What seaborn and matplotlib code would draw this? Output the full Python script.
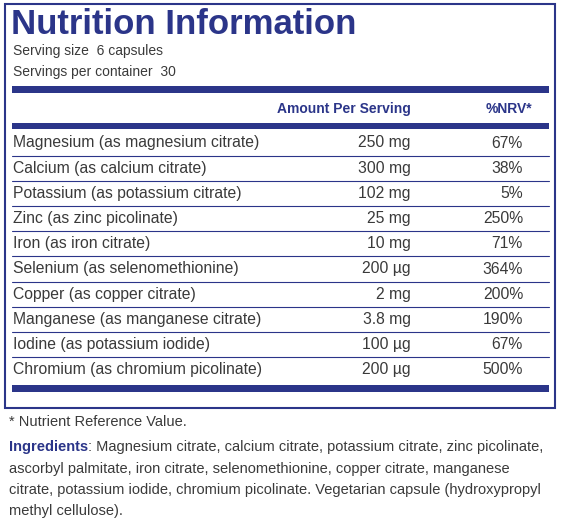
import matplotlib
matplotlib.use('Agg')
import matplotlib.pyplot as plt
import seaborn as sns

sns.set_theme(style='white')
plt.rcParams['font.family'] = ['Liberation Sans', 'DejaVu Sans']

navy = '#2b3589'
grey = '#3a3a3a'

title = 'Nutrition Information'
serving_lines = ['Serving size  6 capsules', 'Servings per container  30']
nutrients = ['Magnesium (as magnesium citrate)', 'Calcium (as calcium citrate)',
             'Potassium (as potassium citrate)', 'Zinc (as zinc picolinate)',
             'Iron (as iron citrate)', 'Selenium (as selenomethionine)',
             'Copper (as copper citrate)', 'Manganese (as manganese citrate)',
             'Iodine (as potassium iodide)', 'Chromium (as chromium picolinate)']
amounts = ['250 mg', '300 mg', '102 mg', '25 mg', '10 mg', '200 µg',
           '2 mg', '3.8 mg', '100 µg', '200 µg']
nrv = ['67%', '38%', '5%', '250%', '71%', '364%', '200%', '190%', '67%', '500%']
footnote = '* Nutrient Reference Value.'
ingredients = ['Magnesium citrate, calcium citrate, potassium citrate, zinc picolinate,',
               'ascorbyl palmitate, iron citrate, selenomethionine, copper citrate, manganese',
               'citrate, potassium iodide, chromium picolinate. Vegetarian capsule (hydroxypropyl',
               'methyl cellulose).']

fig = plt.figure(figsize=(5.64, 5.18), dpi=100)
ax = fig.add_axes([0, 0, 1, 1])
ax.set_xlim(0, 564)
ax.set_ylim(518, 0)
ax.axis('off')

# outer border
ax.add_patch(plt.Rectangle((5, 4), 550, 404, fill=False, ec=navy, lw=1.5))
ax.text(11, 24, title, color=navy, fontsize=25, fontweight='bold', va='center')
for i, s in enumerate(serving_lines):
    ax.text(13, 51 + i * 21, s, color=grey, fontsize=10, va='center')

# thick bars
for y0, h in [(86, 7), (123, 6), (385, 7)]:
    ax.add_patch(plt.Rectangle((12, y0), 537, h, color=navy, lw=0))

ax.text(411, 109, 'Amount Per Serving', color=navy, fontsize=10, fontweight='bold',
        ha='right', va='center')
ax.text(509, 109, '%NRV*', color=navy, fontsize=10, fontweight='bold',
        ha='center', va='center')

row_h = 25.2
for i, (n, a, p) in enumerate(zip(nutrients, amounts, nrv)):
    y = 143 + i * row_h
    ax.text(13, y, n, color=grey, fontsize=11.3, va='center')
    ax.text(411, y, a, color=grey, fontsize=11.3, ha='right', va='center')
    ax.text(523, y, p, color=grey, fontsize=11.3, ha='right', va='center')
    if i < len(nutrients) - 1:
        ax.plot([12, 549], [y + 12.6, y + 12.6], color=navy, lw=0.8)

ax.text(9, 422, footnote, color=grey, fontsize=10.5, va='center')
lbl = ax.text(9, 447, 'Ingredients', color=navy, fontsize=10.5, fontweight='bold', va='center')
fig.canvas.draw()
bb = lbl.get_window_extent(renderer=fig.canvas.get_renderer())
ax.text(9 + bb.width, 447, ': ' + ingredients[0], color=grey, fontsize=10.5, va='center')
for i, line in enumerate(ingredients[1:]):
    ax.text(9, 469 + i * 21, line, color=grey, fontsize=10.5, va='center')

fig.savefig('out.png', dpi=100, facecolor='white')
